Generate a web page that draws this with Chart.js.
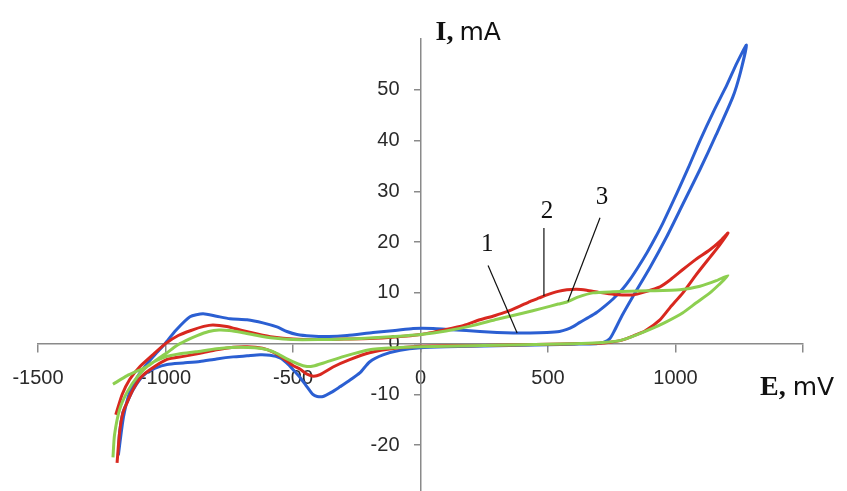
<!DOCTYPE html>
<html>
<head>
<meta charset="utf-8">
<title>Cyclic voltammograms</title>
<script src="https://cdn.jsdelivr.net/npm/chart.js@4.4.1/dist/chart.umd.min.js"></script>
<style>
  html, body { margin: 0; padding: 0; background: #fff; overflow: hidden; }
  #wrap { width: 847px; height: 513px; }
</style>
</head>
<body>
<div id="wrap"><canvas id="cvChart" width="847" height="513"></canvas></div>
<script>
// potential, mV / current, mA — each loop goes right along the upper branch, then back
const curve1E = [-1185, -1165, -1140, -1110, -1070, -1035, -1002, -960, -904, -853, -800, -747, -680, -618, -563, -524, -484, -430, -360, -288, -186, -100, -29, 50, 104, 180, 233, 300, 363, 430, 496, 545, 574, 600, 625, 660, 692, 725, 755, 790, 821, 855, 888, 920, 951, 1006, 1050, 1096, 1150, 1202, 1240, 1278,
  1255, 1225, 1160, 1096, 1030, 966, 900, 833, 790, 760, 743, 720, 690, 600, 500, 400, 300, 200, 100, 0, -80, -147, -200, -237, -280, -316, -350, -382, -405, -422, -445, -470, -500, -525, -551, -590, -629, -680, -735, -800, -865, -930, -994, -1040, -1073, -1100, -1127, -1150, -1167, -1180, -1185];
const curve1I = [-22, -14.5, -9.5, -6.5, -3.8, -1.8, 0, 2.6, 5.3, 5.9, 5.4, 4.9, 4.7, 4.1, 3.3, 2.4, 1.8, 1.5, 1.4, 1.6, 2.2, 2.6, 3.0, 3.0, 2.8, 2.6, 2.4, 2.2, 2.1, 2.1, 2.2, 2.4, 2.8, 3.4, 4.2, 5.2, 6.2, 7.5, 8.8, 10.6, 12.6, 15.2, 17.9, 20.8, 23.8, 29.7, 34.6, 40.0, 45.8, 51.0, 55.2, 58.8,
  53.5, 48.6, 41.2, 34.3, 27.6, 21.1, 15.0, 9.3, 5.5, 2.5, 1.0, 0.3, 0, -0.1, -0.2, -0.3, -0.4, -0.5, -0.6, -0.8, -1.3, -2.2, -3.6, -5.7, -7.3, -8.5, -9.6, -10.4, -10.4, -10.0, -8.5, -6.8, -5.1, -3.8, -2.8, -2.3, -2.2, -2.4, -2.6, -3.0, -3.5, -3.8, -4.1, -4.8, -5.7, -7.0, -9.1, -11.5, -13.6, -17.5, -22];

const curve2E = [-1195, -1170, -1140, -1100, -1050, -1000, -950, -900, -850, -814, -760, -700, -640, -580, -500, -400, -300, -200, -100, 0, 100, 170, 233, 290, 339, 390, 429, 465, 496, 540, 574, 612, 652, 700, 760, 833, 880, 939, 980, 1029, 1080, 1135, 1175, 1206,
  1170, 1135, 1080, 1029, 980, 939, 880, 833, 790, 743, 700, 600, 500, 400, 300, 200, 100, 0, -100, -200, -280, -343, -394, -420, -445, -473, -500, -540, -580, -620, -680, -735, -800, -865, -930, -994, -1060, -1100, -1127, -1150, -1167, -1180, -1190];
const curve2I = [-14, -10, -7, -4.5, -2.2, 0, 1.6, 2.6, 3.4, 3.7, 3.4, 2.6, 1.9, 1.3, 0.9, 0.8, 0.9, 1.0, 1.3, 1.8, 2.8, 3.6, 4.7, 5.5, 6.3, 7.4, 8.3, 9.0, 9.6, 10.3, 10.6, 10.7, 10.5, 10.1, 9.7, 9.6, 10.2, 11.2, 12.6, 14.6, 16.6, 18.5, 20.2, 21.8,
  19.2, 17.0, 13.5, 10.0, 7.2, 4.7, 2.5, 1.5, 0.7, 0.3, 0.1, 0, -0.1, -0.2, -0.3, -0.4, -0.4, -0.5, -0.9, -1.8, -3.2, -4.6, -6.1, -6.4, -6.0, -5.0, -4.3, -2.8, -1.6, -0.9, -0.6, -0.7, -1.2, -1.9, -2.5, -3.1, -5.1, -6.8, -9.0, -11.5, -13.6, -17.5, -23.5];

const curve3E = [-1206, -1150, -1073, -1030, -994, -960, -920, -876, -830, -790, -750, -700, -640, -578, -500, -400, -300, -200, -100, 0, 100, 200, 300, 400, 480, 540, 574, 620, 676, 755, 888, 1017, 1096, 1160, 1206,
  1170, 1135, 1080, 1029, 960, 900, 830, 770, 700, 600, 500, 400, 300, 200, 100, 0, -100, -200, -300, -380, -420, -445, -480, -524, -560, -600, -650, -720, -800, -880, -943, -1000, -1060, -1110, -1150, -1180, -1200, -1206];
const curve3I = [-8, -6.3, -4.5, -3.0, -1.8, -0.5, 0.6, 1.6, 2.4, 2.7, 2.6, 2.2, 1.6, 1.1, 0.8, 0.8, 0.9, 1.1, 1.4, 1.8, 2.5, 3.5, 4.8, 6.0, 7.0, 7.8, 8.2, 9.2, 10.0, 10.2, 10.4, 10.6, 11.3, 12.4, 13.4,
  11.6, 10.0, 8.0, 6.1, 4.2, 2.8, 1.4, 0.5, 0.2, 0, -0.1, -0.2, -0.3, -0.4, -0.5, -0.6, -0.8, -1.2, -2.5, -3.8, -4.4, -4.5, -4.0, -3.0, -2.0, -1.2, -0.8, -0.7, -1.0, -1.6, -2.0, -2.6, -4.0, -6.5, -9.5, -13, -18, -22.4];

const curveNames = ['1', '2', '3'];
const hiddenTicks = [1500, 60, -30];

// curve numbers with their leader lines, in axis units
const curveTags = [
  { text: '1', at: [262, 19.5], from: [265, 15.4], to: [379, 2.1] },
  { text: '2', at: [496, 26.0], from: [484, 22.8], to: [484, 9.4] },
  { text: '3', at: [712, 28.7], from: [704, 24.8], to: [578, 8.3] }
];

function toPoints(es, is) {
  return es.map((e, i) => ({ x: e, y: is[i] }));
}

const axisColor = '#8a8a8a';
const textColor = '#2a2a2a';
const yLabelGap = 21;
const xLabelDrop = 10;

// axes pinned at zero draw their labels tight to the line; move them out a bit
// (done here rather than with ticks.padding, which would also widen the layout)
const labelShift = {
  id: 'labelShift',
  beforeDraw(chart) {
    chart.scales.y.getLabelItems().forEach(item => {
      if (!item.shifted) {
        item.options.translation[0] -= yLabelGap;
        item.shifted = true;
      }
    });
    chart.scales.x.getLabelItems().forEach(item => {
      if (!item.shifted) {
        item.options.translation[1] += xLabelDrop;
        item.shifted = true;
      }
    });
  }
};

const tagsPlugin = {
  id: 'cvTags',
  afterDatasetsDraw(chart) {
    const { ctx, scales: { x, y } } = chart;
    ctx.save();

    ctx.strokeStyle = '#111';
    ctx.lineWidth = 1.2;
    curveTags.forEach(t => {
      ctx.beginPath();
      ctx.moveTo(x.getPixelForValue(t.from[0]), y.getPixelForValue(t.from[1]));
      ctx.lineTo(x.getPixelForValue(t.to[0]), y.getPixelForValue(t.to[1]));
      ctx.stroke();
    });

    ctx.fillStyle = '#111';
    ctx.font = '25px "Liberation Serif"';
    ctx.textAlign = 'center';
    ctx.textBaseline = 'middle';
    curveTags.forEach(t => {
      ctx.fillText(t.text, x.getPixelForValue(t.at[0]), y.getPixelForValue(t.at[1]));
    });

    // axis titles: bold serif symbol + sans unit
    const x0 = x.getPixelForValue(0);
    const y0 = y.getPixelForValue(0);
    ctx.textAlign = 'left';
    ctx.textBaseline = 'alphabetic';

    let px = x0 + 15, py = chart.chartArea.top + 1;
    ctx.font = 'bold 28px "Liberation Serif"';
    ctx.fillText('I,', px, py);
    px += ctx.measureText('I,').width + 6;
    ctx.font = '25px "DejaVu Sans"';
    ctx.fillText('mA', px, py);

    px = x.right - 43; py = y0 + 51;
    ctx.font = 'bold 28px "Liberation Serif"';
    ctx.fillText('E,', px, py);
    px += ctx.measureText('E,').width + 7;
    ctx.font = '25px "DejaVu Sans"';
    ctx.fillText('mV', px, py);

    ctx.restore();
  }
};

document.addEventListener('DOMContentLoaded', function() {
  const ctx = document.getElementById('cvChart').getContext('2d');

  const lineStyle = { showLine: true, pointRadius: 0, borderWidth: 3, tension: 0.2, fill: false };

  const config = {
    type: 'scatter',
    data: {
      datasets: [
        Object.assign({ label: curveNames[0], data: toPoints(curve1E, curve1I), borderColor: '#2b5fd2', order: 3 }, lineStyle),
        Object.assign({ label: curveNames[1], data: toPoints(curve2E, curve2I), borderColor: '#d8281f', order: 2 }, lineStyle),
        Object.assign({ label: curveNames[2], data: toPoints(curve3E, curve3I), borderColor: '#8dcf50', order: 1 }, lineStyle)
      ]
    },
    options: {
      responsive: false,
      animation: false,
      devicePixelRatio: 1,
      layout: { padding: { left: 38, right: 44, top: 39, bottom: 17 } },
      plugins: { legend: { display: false }, tooltip: { enabled: false } },
      scales: {
        x: {
          type: 'linear',
          position: { y: 0 },
          min: -1500, max: 1500,
          grid: { drawOnChartArea: false, tickLength: 8, color: axisColor, lineWidth: 1.5 },
          border: { color: axisColor, width: 1.5 },
          ticks: {
            stepSize: 500,
            padding: 5,
            maxRotation: 0,
            color: textColor,
            font: { family: '"Liberation Sans", Arial, sans-serif', size: 20 },
            callback: v => hiddenTicks.includes(v) ? '' : String(v)
          }
        },
        y: {
          type: 'linear',
          position: { x: 0 },
          min: -30, max: 60,
          grid: {
            drawOnChartArea: false, tickLength: 6, lineWidth: 1.5,
            color: c => (c.tick && hiddenTicks.includes(c.tick.value)) ? 'rgba(0,0,0,0)' : axisColor
          },
          border: { color: axisColor, width: 1.5 },
          ticks: {
            stepSize: 10,
            padding: 5,
            color: textColor,
            font: { family: '"Liberation Sans", Arial, sans-serif', size: 20 },
            callback: v => hiddenTicks.includes(v) ? '' : String(v)
          }
        }
      }
    },
    plugins: [labelShift, tagsPlugin]
  };

  const cvChart = new Chart(ctx, config);
});
</script>
</body>
</html>
